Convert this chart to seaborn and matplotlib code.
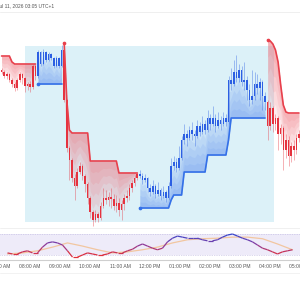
import numpy as np
import pandas as pd
import seaborn as sns
import matplotlib.pyplot as plt
from matplotlib.collections import LineCollection
from matplotlib.colors import LinearSegmentedColormap
from matplotlib.lines import Line2D

sns.set_theme(style="white")
plt.rcParams['font.family'] = ['Liberation Sans', 'DejaVu Sans']

# 5 minute candles, time in minutes after 07:00
first_time = 15
bar_minutes = 5
first_open = 180

close = [178, 174, 176, 170, 166, 162, 170, 176, 172, 164, 166, 163, 184, 174,
         198, 186, 198, 190, 196, 192, 184, 192, 184, 200,
         150, 102, 90, 72, 64, 78, 84, 74, 66, 52, 38, 30, 36, 32, 44, 52, 50, 53, 51,
         44, 47, 40, 46, 52, 54, 62, 67, 72, 76,
         74, 70, 72, 62, 58, 64, 56, 60, 54, 58, 52, 64, 84, 88, 82, 92, 110, 116, 112,
         120, 116, 114, 124, 118, 126, 120, 132, 126, 132, 124, 130, 126, 132, 128,
         170, 166, 178, 172, 180, 168, 170, 160, 150, 154, 166, 162, 168, 154, 148,
         124, 142, 126, 132, 116, 122, 100, 110, 94, 104, 100, 112, 116]
high = [182, 180, 178, 177, 172, 168, 172, 178, 177, 173, 168, 169, 186, 186,
        200, 199, 201, 199, 198, 197, 193, 194, 193, 205,
        202, 151, 104, 92, 76, 82, 88, 86, 76, 68, 54, 40, 40, 38, 48, 62, 60, 58, 62,
        56, 55, 52, 50, 56, 60, 66, 70, 75, 78,
        80, 77, 76, 73, 66, 70, 66, 68, 62, 64, 60, 68, 92, 94, 92, 104, 114, 126, 120,
        124, 128, 120, 130, 128, 134, 130, 140, 136, 144, 136, 138, 134, 138, 136,
        174, 182, 190, 195, 186, 184, 188, 174, 166, 180, 178, 176, 172, 170, 158,
        150, 148, 144, 136, 134, 126, 124, 116, 114, 108, 110, 116, 120]
low = [176, 172, 171, 168, 163, 159, 160, 168, 166, 158, 160, 158, 161, 170,
       172, 184, 185, 188, 189, 190, 182, 183, 182, 183,
       148, 98, 70, 68, 50, 62, 76, 70, 58, 46, 32, 24, 28, 28, 30, 42, 46, 44, 42,
       40, 38, 34, 30, 40, 48, 50, 58, 64, 70,
       72, 66, 68, 58, 54, 56, 52, 54, 50, 52, 48, 50, 62, 80, 78, 80, 90, 106, 104,
       110, 110, 104, 112, 114, 116, 116, 118, 120, 124, 118, 122, 120, 124, 124,
       126, 160, 164, 168, 168, 164, 160, 150, 144, 146, 150, 156, 150, 140, 140,
       110, 120, 118, 120, 100, 106, 80, 92, 84, 88, 90, 96, 108]
trend_line = [194, 194, 194, 194, 188, 186, 186, 186, 186, 186, 186, 186, 186, 186,
              166, 166, 166, 166, 166, 166, 166, 166, 166, 166,
              207, 150, 120, 117, 117, 117, 117, 117, 117, 117, 89, 89, 89, 89, 89, 89,
              89, 89, 89, 89, 89, 77, 77, 77, 77, 77, 77, 77, 77,
              42, 42, 42, 42, 42, 42, 42, 42, 42, 42, 42, 42, 50, 55, 55, 55, 55, 78, 78,
              78, 78, 78, 78, 78, 78, 78, 95, 95, 95, 95, 95, 95, 95, 95,
              110, 132, 132, 132, 132, 132, 132, 132, 132, 132, 132, 132, 132, 132, 132,
              210, 209, 206, 200, 188, 165, 145, 138, 137, 137, 137, 137, 137]
flip_idx = [14, 24, 53, 102]
first_up = False

# highlighted session box (08:00 - 15:57)
session_start, session_end = 60, 537
session_low, session_high = 28, 204

# oscillator, every 10 minutes
osc_first, osc_step = 15, 10
osc = [34, 32, 32, 36, 38, 34, 34, 45, 53, 55, 53, 49, 38, 26, 26, 30, 34, 32, 30, 30,
       32, 36, 34, 34, 38, 41, 47, 51, 47, 43, 40, 43, 55, 62, 66, 64, 62, 62, 62, 59,
       57, 57, 59, 64, 68, 70, 66, 62, 59, 55, 49, 43, 40, 36, 32, 36, 38, 40]
# its moving average, every 30 minutes
ma_first, ma_step = 15, 30
osc_ma = [32, 34, 38, 45, 53, 47, 40, 34, 36, 40, 45, 53, 59, 61, 62, 64, 64, 61, 51, 40]

tick_minutes = [0, 60, 120, 180, 240, 300, 360, 420, 480, 540, 600]
tick_labels = ['07:00 AM', '08:00 AM', '09:00 AM', '10:00 AM', '11:00 AM', '12:00 PM',
               '01:00 PM', '02:00 PM', '03:00 PM', '04:00 PM', '05:00 PM']
stamp = 'Jul 11, 2026 03:05 UTC+1'

RED = '#e5333f'
BLUE = '#2c5fe3'
RED_LINE = '#e8404c'
BLUE_LINE = '#3470e8'

n = len(close)
df = pd.DataFrame({
    't': first_time + bar_minutes * np.arange(n),
    'close': close, 'high': high, 'low': low, 'line': trend_line,
})
df['open'] = [first_open] + close[:-1]

fig = plt.figure(figsize=(3, 3), dpi=100)
ax = fig.add_axes([0, 0.24, 1, 0.72])
ax2 = fig.add_axes([0, 40 / 300, 1, 31 / 300])

ax.fill_between([session_start, session_end], session_low, session_high,
                color='#dcf1f8', lw=0, zorder=0)

edges = [0] + flip_idx + [n]
up = first_up
for a, b in zip(edges[:-1], edges[1:]):
    seg = df.iloc[a:b]
    col = BLUE if up else RED
    lcol = BLUE_LINE if up else RED_LINE
    fcol = '#5b8ef0' if up else '#f06a74'
    for k in range(1, 6):
        ax.fill_between(seg['t'], seg['line'], seg['line'] + (seg['close'] - seg['line']) * k / 5,
                        color=fcol, alpha=0.13, lw=0, zorder=1)
    ax.vlines(seg['t'], seg['low'], seg['high'], colors=col, lw=0.45, alpha=0.6, zorder=2)
    ax.bar(seg['t'], seg['close'] - seg['open'], bottom=seg['open'], width=3.0,
           color=col, lw=0, zorder=3)
    sns.lineplot(x=seg['t'], y=seg['line'], color=lcol, lw=1.2, ax=ax, zorder=4)
    if a > 0:
        sns.scatterplot(x=seg['t'].iloc[:1], y=seg['line'].iloc[:1], color=lcol, s=7,
                        linewidth=0, ax=ax, zorder=5)
    up = not up

ax.set_xlim(12, 587)
ax.set_ylim(22, 238)
ax.set_axis_off()

# oscillator pane
ot = osc_first + osc_step * np.arange(len(osc))
mt = ma_first + ma_step * np.arange(len(osc_ma))
ax2.axhspan(30, 70, color='#eeebf9', lw=0, zorder=0)
for lvl in (30, 70):
    ax2.axhline(lvl, color='#b7b0dc', lw=0.5, ls=(0, (1, 1.5)), zorder=1)
sns.lineplot(x=mt, y=osc_ma, color='#f2c6a0', lw=0.9, ax=ax2, zorder=2)
cmap = LinearSegmentedColormap.from_list('rb', ['#e0303c', '#8b3c9e', '#3348cf'])
pts = np.column_stack([ot, osc]).reshape(-1, 1, 2)
segs = np.concatenate([pts[:-1], pts[1:]], axis=1)
lc = LineCollection(segs, cmap=cmap, lw=0.9, zorder=3)
lc.set_array((np.array(osc[:-1]) + np.array(osc[1:])) / 2)
lc.set_clim(30, 70)
ax2.add_collection(lc)
ax2.set_xlim(12, 587)
ax2.set_ylim(20.5, 79.5)
ax2.set_yticks([])
ax2.set_xticks(tick_minutes)
ax2.set_xticklabels(tick_labels)
ax2.tick_params(axis='x', length=0, pad=3, labelsize=3.6, labelcolor='#555555')
ax2.set_xlabel('')
ax2.set_ylabel('')
for s in ('left', 'right', 'top'):
    ax2.spines[s].set_visible(False)
ax2.spines['bottom'].set_color('#cfcfcf')
ax2.spines['bottom'].set_linewidth(0.8)
ax2.set_facecolor('none')

fig.add_artist(Line2D([0, 1], [0.96, 0.96], color='#ececec', lw=0.6))
fig.add_artist(Line2D([0, 1], [1 - 228 / 300, 1 - 228 / 300], color='#eeeeee', lw=0.6))
fig.add_artist(Line2D([0, 1], [1 - 273 / 300, 1 - 273 / 300], color='#f0f0f0', lw=0.6))
fig.text(54 / 300, 1 - 5.5 / 300, stamp, ha='right', va='center', fontsize=3.5,
         color='#555555')

fig.savefig('out.png', dpi=100)
